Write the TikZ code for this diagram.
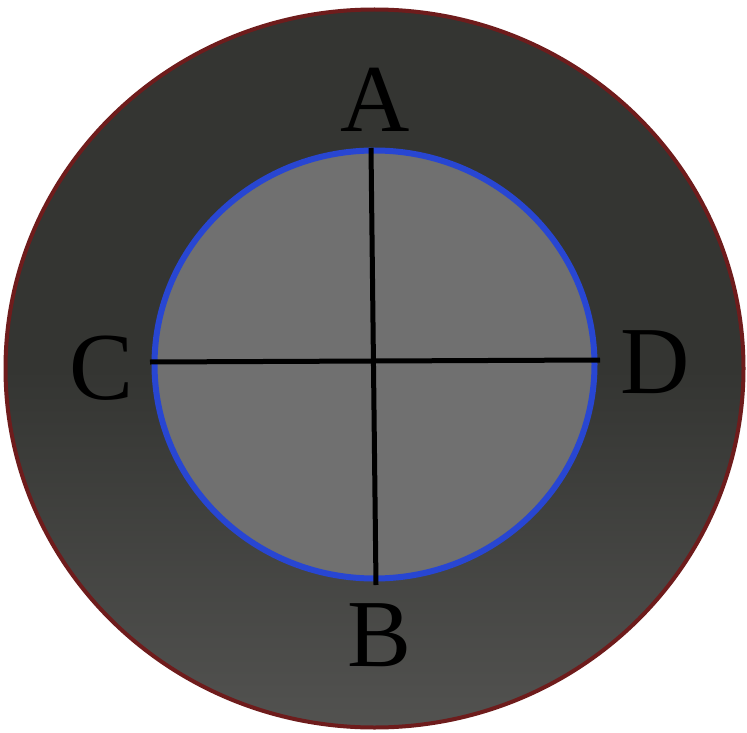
\documentclass[tikz,border=0pt]{standalone}
\usepackage{fontspec}
\setmainfont{Liberation Serif}
\definecolor{outerfill}{RGB}{52,53,50}
\definecolor{outerfillb}{RGB}{82,82,80}
\definecolor{innerfill}{RGB}{112,112,112}
\definecolor{rimred}{RGB}{110,28,28}
\definecolor{rimblue}{RGB}{40,70,210}
\begin{document}
\begin{tikzpicture}[x=1pt,y=-1pt,
  lbl/.style={font=\fontsize{96}{96}\selectfont, text=black, inner sep=0pt},
  axis/.style={draw=black, line width=5pt}]
\useasboundingbox (0,0) rectangle (747,733);
\fill[white] (0,0) rectangle (747,733);
\shade[top color=outerfill, bottom color=outerfillb, middle color=outerfill] (374.5,368.5) ellipse [x radius=369, y radius=359];
\draw[rimred, line width=4pt] (374.5,368.5) ellipse [x radius=369, y radius=359];
\fill[innerfill] (374.5,364.5) ellipse [x radius=220, y radius=214];
\draw[rimblue, line width=6pt] (374.5,364.5) ellipse [x radius=220, y radius=214];
\coordinate (top) at (371,148);
\coordinate (bot) at (376,585);
\coordinate (lft) at (150,362);
\coordinate (rgt) at (600,360);
\draw[axis] (top) -- (bot);
\draw[axis] (lft) -- (rgt);
\node[lbl] (A) at (375,100) {A};
\node[lbl] (B) at (380,635) {B};
\node[lbl] (C) at (102,368) {C};
\node[lbl] (D) at (655,362) {D};
\end{tikzpicture}
\end{document}
